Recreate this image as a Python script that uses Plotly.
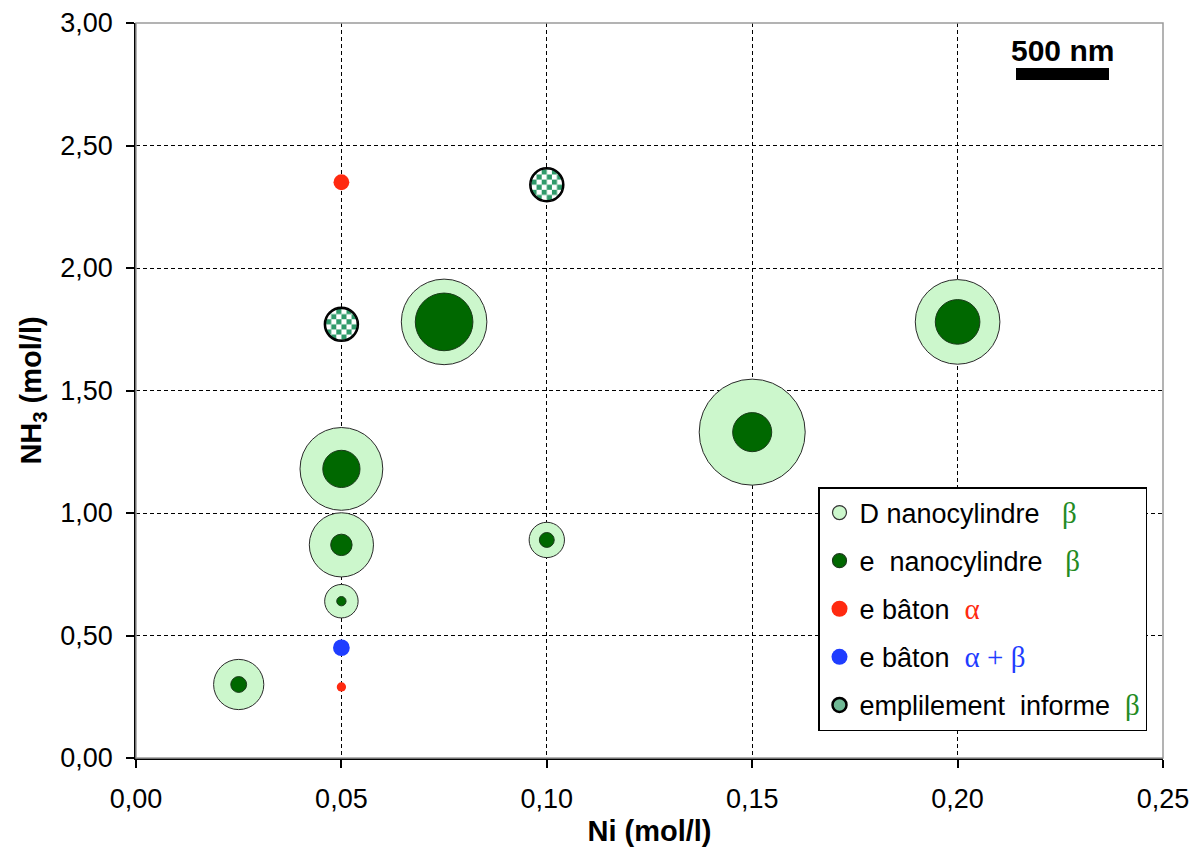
import base64
import plotly.graph_objects as go

# ---------------- data ----------------
# nanocylinders (beta): Ni, NH3, diameter D (nm), thickness e (nm)
ni_cyl = [0.025, 0.05, 0.05, 0.05, 0.075, 0.10, 0.15, 0.20]
nh3_cyl = [0.30, 0.64, 0.87, 1.18, 1.78, 0.89, 1.33, 1.78]
D_cyl_nm = [270, 180, 345, 445, 460, 190, 570, 455]
e_cyl_nm = [85, 50, 115, 200, 310, 80, 210, 240]

# rods alpha
ni_alpha = [0.05, 0.05]
nh3_alpha = [0.29, 2.35]
e_alpha_nm = [50, 85]

# rods alpha + beta
ni_ab = [0.05]
nh3_ab = [0.45]
e_ab_nm = [90]

# shapeless stacking (beta)
ni_inf = [0.05, 0.10]
nh3_inf = [1.77, 2.34]

x_ticks = [0.00, 0.05, 0.10, 0.15, 0.20, 0.25]
y_ticks = [0.00, 0.50, 1.00, 1.50, 2.00, 2.50, 3.00]
scale_bar_nm = 500

# ---------------- styles ----------------
OFF = 8  # default page body margin
PL, PT, PR, PB = 136, 23, 1163, 758   # plot area in page pixels
W, H = 1202 - 2 * OFF, 856 - 2 * OFF
ML, MT = PL - OFF, PT - OFF
MR, MB = (OFF + W) - PR, (OFF + H) - PB
PW, PH = PR - PL, PB - PT
XR = [0, 0.25]
YR = [0, 3.0]
PX_PER_NM = 0.186
INF_PX = 34

LIGHT = "#ccf7cc"
DARK = "#006800"
RED = "#ff2a10"
BLUE = "#1f3dff"
GREEK_GREEN = "#238b23"
CHECK = "#2f9a6a"
FONT = "Liberation Sans, Arial, sans-serif"


def px(vals):
    return [v * PX_PER_NM for v in vals]


def greek(s, color):
    return ("<span style=\"font-family:'Liberation Serif',serif;font-size:29px;"
            f"color:{color}\">{s}</span>")


def paper_x(p):
    return (p - PL) / PW


def paper_y(p):
    return (PB - p) / PH


NB = "\u00a0"

fig = go.Figure()

# outer diameter circles
fig.add_trace(go.Scatter(
    x=ni_cyl, y=nh3_cyl, mode="markers", showlegend=False,
    marker=dict(size=px(D_cyl_nm), color=LIGHT, opacity=1,
                line=dict(color="#2a2a2a", width=1)),
))
# inner thickness circles
fig.add_trace(go.Scatter(
    x=ni_cyl, y=nh3_cyl, mode="markers", showlegend=False,
    marker=dict(size=px(e_cyl_nm), color=DARK, opacity=1,
                line=dict(color="#1a3a1a", width=1)),
))
fig.add_trace(go.Scatter(
    x=ni_alpha, y=nh3_alpha, mode="markers", showlegend=False,
    marker=dict(size=px(e_alpha_nm), color=RED, opacity=1, line=dict(width=0)),
))
fig.add_trace(go.Scatter(
    x=ni_ab, y=nh3_ab, mode="markers", showlegend=False,
    marker=dict(size=px(e_ab_nm), color=BLUE, opacity=1, line=dict(width=0)),
))
fig.add_trace(go.Scatter(
    x=ni_inf, y=nh3_inf, mode="markers", showlegend=False,
    marker=dict(size=INF_PX, color="white", opacity=1, line=dict(color="black", width=1.5)),
))

# legend entries
legend_items = [
    ("D nanocylindre" + NB * 3 + greek("β", GREEK_GREEN),
     dict(size=14, color=LIGHT, line=dict(color="#333333", width=1.2))),
    ("e" + NB * 2 + "nanocylindre" + NB * 3 + greek("β", GREEK_GREEN),
     dict(size=14, color=DARK, line=dict(color="#1a3a1a", width=1.2))),
    ("e bâton" + NB * 2 + greek("α", RED),
     dict(size=17, color=RED, line=dict(width=0))),
    ("e bâton" + NB * 2 + greek("α" + NB + "+" + NB + "β", BLUE),
     dict(size=17, color=BLUE, line=dict(width=0))),
    ("emplilement" + NB * 2 + "informe" + NB * 2 + greek("β", GREEK_GREEN),
     dict(size=14, color="#6fb894", line=dict(color="black", width=2.5))),
]
for i, (name, mk) in enumerate(legend_items):
    fig.add_trace(go.Scatter(
        x=[None], y=[None], mode="markers", name=name, legendgroup=f"g{i}",
        marker=mk, showlegend=True,
    ))

# checkered fill for shapeless stacking markers (image placed at data coords)
svg = (
    "<svg xmlns='http://www.w3.org/2000/svg' width='100' height='100' viewBox='0 0 100 100'>"
    "<defs><pattern id='p' x='5' y='5' width='30' height='30' patternUnits='userSpaceOnUse'>"
    f"<rect width='15' height='15' fill='{CHECK}'/>"
    f"<rect x='15' y='15' width='15' height='15' fill='{CHECK}'/></pattern></defs>"
    "<circle cx='50' cy='50' r='47' fill='white'/>"
    "<circle cx='50' cy='50' r='47' fill='url(#p)' stroke='black' stroke-width='4.5'/>"
    "</svg>"
)
src = "data:image/svg+xml;base64," + base64.b64encode(svg.encode()).decode()
sx = INF_PX * (XR[1] - XR[0]) / PW
sy = INF_PX * (YR[1] - YR[0]) / PH
images = [dict(source=src, xref="x", yref="y", x=xv, y=yv, sizex=sx, sizey=sy,
               xanchor="center", yanchor="middle", sizing="stretch", layer="above")
          for xv, yv in zip(ni_inf, nh3_inf)]

# scale bar (paper coords)
bar_w = scale_bar_nm * PX_PER_NM / PW
bar_x1 = paper_x(1109)
bar_x0 = bar_x1 - bar_w

fig.update_layout(
    width=W, height=H,
    margin=dict(l=ML, r=MR, t=MT, b=MB, pad=0, autoexpand=False),
    paper_bgcolor="white", plot_bgcolor="white",
    separators=", ",
    font=dict(family=FONT, size=27, color="black"),
    images=images,
    showlegend=True,
    legend=dict(
        x=paper_x(818), y=paper_y(487), xanchor="left", yanchor="top",
        bgcolor="white", bordercolor="black", borderwidth=1.5,
        font=dict(family=FONT, size=27, color="black"),
        tracegroupgap=10, itemsizing="trace",
    ),
    shapes=[
        dict(type="rect", xref="paper", yref="paper", x0=0, x1=1, y0=0, y1=1,
             line=dict(color="#9a9a9a", width=1.5), layer="above"),
        dict(type="rect", xref="paper", yref="paper", x0=bar_x0, x1=bar_x1,
             y0=paper_y(80), y1=paper_y(68),
             fillcolor="black", line=dict(width=0)),
    ],
    annotations=[
        dict(text="<b>" + str(scale_bar_nm) + " nm</b>", xref="paper", yref="paper",
             x=(bar_x0 + bar_x1) / 2, y=paper_y(50), xanchor="center", yanchor="middle",
             showarrow=False, font=dict(family=FONT, size=30, color="black")),
    ],
)

fig.update_xaxes(
    range=XR, tickvals=x_ticks, tickformat=".2f", automargin=False,
    showgrid=True, gridcolor="black", gridwidth=1.2, griddash="4px,3px",
    zeroline=False, showline=True, linecolor="black", linewidth=1.5,
    ticks="outside", ticklen=8, tickwidth=1.5, tickcolor="black",
    ticklabelstandoff=8,
    tickfont=dict(family=FONT, size=27),
    title=dict(text="Ni (mol/l)", font=dict(family=FONT, size=29, weight="bold"), standoff=8),
)
fig.update_yaxes(
    range=YR, tickvals=y_ticks, tickformat=".2f", automargin=False,
    showgrid=True, gridcolor="black", gridwidth=1.2, griddash="4px,3px",
    zeroline=False, showline=True, linecolor="black", linewidth=1.5,
    ticks="outside", ticklen=8, tickwidth=1.5, tickcolor="black",
    ticklabelstandoff=8,
    tickfont=dict(family=FONT, size=27),
    title=dict(text="NH<sub>3</sub> (mol/l)", font=dict(family=FONT, size=29, weight="bold"), standoff=10),
)

fig.write_html("out.html")
